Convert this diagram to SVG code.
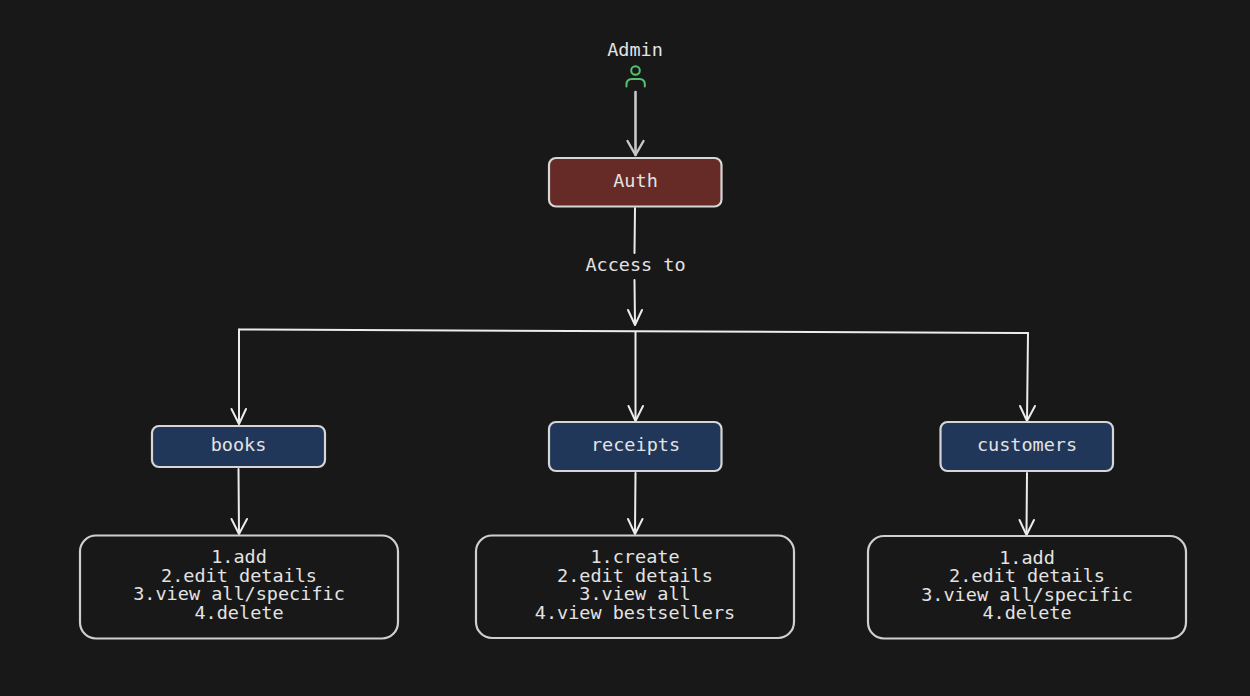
<svg xmlns="http://www.w3.org/2000/svg" width="1250" height="696" viewBox="0 0 1250 696">
<style>
.box{stroke:#d6d6d6;stroke-width:2.200}
.list{fill:none;stroke:#cfcfcf;stroke-width:2.200}
.t{font-family:"DejaVu Sans Mono","Liberation Mono",monospace;font-size:18.5px;fill:#e3e3e3;text-anchor:middle}
.c{fill:none;stroke:#ececec;stroke-width:2;stroke-linecap:round;stroke-linejoin:round}
</style>
<rect width="1250" height="696" fill="#181818"/>
<g id="connectors">
<path class="c" style="stroke:#c8c8c8;stroke-width:2.600" d="M635.500 92 L635.500 155"/>
<path class="c" d="M635 208 L634.500 253"/>
<path class="c" d="M634.500 280 L635 324"/>
<path class="c" d="M239 329.500 L1028 333"/>
<path class="c" d="M239 329.500 L239 423"/>
<path class="c" d="M635.500 332 L635.500 420"/>
<path class="c" d="M1028 333 L1027 420"/>
<path class="c" d="M238.500 469 L239 533"/>
<path class="c" d="M635.500 473 L635 533"/>
<path class="c" d="M1027 473 L1026.500 534"/>
<path class="c" style="stroke:#c8c8c8;stroke-width:2.400" d="M627.500 141 L635.500 155 L643.500 141"/>
<path class="c" d="M628 310 L635 325 L642 310"/>
<path class="c" d="M231.500 409 L239 424 L246 409"/>
<path class="c" d="M628.500 406 L635.500 421 L643 406"/>
<path class="c" d="M1020 406 L1027 421 L1035 406"/>
<path class="c" d="M231.500 519 L239 534 L247 519"/>
<path class="c" d="M628 519 L635 534 L642.500 519"/>
<path class="c" d="M1019.500 520 L1026.500 535 L1034 520"/>
</g>
<g id="admin">
<text class="t" x="635" y="55.500">Admin</text>
<circle cx="635.500" cy="70.500" r="4.300" fill="none" stroke="#56c271" stroke-width="2"/>
<path d="M626.500 86.500 V84.500 Q626.500 79 632 79 H639.500 Q644.800 79 644.800 84.500 V86.500" fill="none" stroke="#56c271" stroke-width="2" stroke-linecap="round"/>
</g>
<g id="auth">
<rect class="box" x="549" y="158" width="172.500" height="48.500" rx="7" fill="#662b27"/>
<text class="t" x="635.500" y="186.500">Auth</text>
</g>
<g id="access-label"><text class="t" x="635.500" y="271">Access to</text></g>
<g id="books">
<rect class="box" x="152" y="426" width="173" height="41" rx="7" fill="#21375a"/>
<text class="t" x="238.500" y="450.500">books</text>
</g>
<g id="receipts">
<rect class="box" x="549" y="422" width="172.500" height="49" rx="7" fill="#21375a"/>
<text class="t" x="635.500" y="450.500">receipts</text>
</g>
<g id="customers">
<rect class="box" x="940.500" y="422" width="172.500" height="49" rx="7" fill="#21375a"/>
<text class="t" x="1027" y="451">customers</text>
</g>
<g id="books-list">
<rect class="list" x="80" y="535.500" width="318" height="103" rx="16"/>
<text class="t" x="239" y="563">1.add</text>
<text class="t" x="239" y="581.500">2.edit details</text>
<text class="t" x="239" y="600">3.view all/specific</text>
<text class="t" x="239" y="618.500">4.delete</text>
</g>
<g id="receipts-list">
<rect class="list" x="476" y="535.500" width="318" height="102.500" rx="16"/>
<text class="t" x="635" y="563">1.create</text>
<text class="t" x="635" y="581.500">2.edit details</text>
<text class="t" x="635" y="600">3.view all</text>
<text class="t" x="635" y="618.500">4.view bestsellers</text>
</g>
<g id="customers-list">
<rect class="list" x="868" y="536" width="318" height="102.500" rx="16"/>
<text class="t" x="1027" y="563.500">1.add</text>
<text class="t" x="1027" y="582">2.edit details</text>
<text class="t" x="1027" y="600.500">3.view all/specific</text>
<text class="t" x="1027" y="619">4.delete</text>
</g>
</svg>
